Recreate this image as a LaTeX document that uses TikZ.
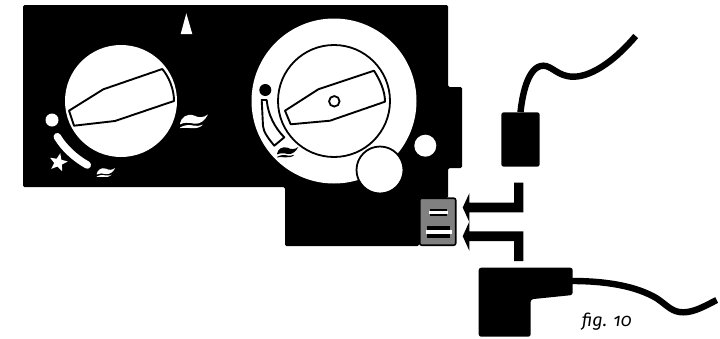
\documentclass[tikz,border=0pt]{standalone}
\usepackage{fontspec}
\setmainfont[Numbers=OldStyle]{Fira Sans}
\usetikzlibrary{shapes.geometric}
\tikzset{
  disc/.style={circle,fill=white,inner sep=0pt,minimum size=#1},
  ringed/.style={circle,draw=black,line width=1.8pt,inner sep=0pt,minimum size=#1},
  pointer/.style={fill=white,draw=black,line width=1.9pt,line join=round},
  cable/.style={draw=black,line width=6.4pt,line cap=butt},
  plugbody/.style={fill=black,rounded corners=2.5pt},
  bar/.style={fill=#1,draw=none},
}
\newcommand{\wave}[4]{%
 \begin{scope}[shift={(#1,#2)},scale=#3]
  \fill[#4] (0,9) .. controls (1,3) and (7,-1.5) .. (14,1) .. controls (19,3.5) and (23,3.5) .. (28,0) .. controls (25,6) and (20,10) .. (14,9.2) .. controls (9,7.8) and (4,7.8) .. (0,9.8) -- cycle;
  \fill[#4] (0,13) .. controls (5,10) and (10,10.2) .. (14,11.2) .. controls (17,11.8) and (20,11.2) .. (23,10.2) .. controls (20,13.5) and (15,14) .. (11,13.6) .. controls (7,13.2) and (3,13.2) .. (0,13.6) -- cycle;
 \end{scope}}
\begin{document}
\begin{tikzpicture}[x=1pt,y=-1pt]
\useasboundingbox (0,0) rectangle (720,338);
% housing
\fill[rounded corners=1.5pt] (23,5) -- (448,5) -- (448,87) -- (462,87) -- (462,168) -- (448,168) -- (448,198) -- (419,198) -- (419,246) -- (285,246) -- (285,187) -- (23,187) -- cycle;
\fill[white] (186.3,13.3) -- (180.7,34) -- (192.3,34) -- cycle;
% left knob
\node[disc=112pt] (knobL) at (121,101) {};
\draw[pointer] (69,110.7) -- (103.3,89.3) -- (162.3,69) .. controls (169,77) and (174,89) .. (174,101) -- (115,121) -- (74,125.7) -- cycle;
\node[disc=13pt] (dotL) at (52,120) {};
\draw[white,line width=7.5pt,line cap=round] (57.3,136.7) .. controls (64,148) and (75,158) .. (87.3,165);
\node[star,star points=5,star point ratio=2.3,fill=white,inner sep=0pt,minimum size=19pt,rotate=-12] (starL) at (58.3,162.5) {};
\wave{96.7}{168}{0.66}{white}
\wave{180}{114.5}{1}{white}
% right knob
\node[disc=165pt] (knobR) at (334,101) {};
\node[ringed=112pt] (ringR) at (334,101) {};
\draw[pointer] (285,110.7) -- (318.3,89.3) -- (374,70.7) .. controls (380,80) and (385,91) .. (385,101.7) -- (330,120.7) -- (290.7,124.3) -- cycle;
\node[ringed=10.5pt,fill=white] (hubR) at (334.3,101.3) {};
\node[circle,fill=black,inner sep=0pt,minimum size=12pt] (dotR) at (265.3,90) {};
\draw[pointer] (261.7,100) -- (266.7,100) .. controls (268,115) and (275,128) .. (284.3,137.3) -- (274.3,145.7) .. controls (268,138) and (263.5,132) .. (263,126) -- cycle;
\wave{277}{147}{0.76}{black}
\node[ringed=47pt,fill=white] (bigR) at (380,170) {};
\node[disc=22pt] (smallR) at (425.3,145.7) {};
% socket
\node[draw=black,line width=1.6pt,fill=black!50,rounded corners=2pt,minimum width=36pt,minimum height=47pt,inner sep=0pt] (socket) at (437.7,221.7) {};
\fill[bar=black] (430.3,209.3) rectangle (446.7,216);
\fill[bar=white] (429.3,211) rectangle (447.7,214);
\fill[bar=black] (426.7,226) rectangle (450,238);
\fill[bar=white] (425.7,230) rectangle (452.3,234);
% arrows
\fill (462.7,207.5) -- (469.3,193.3) -- (469.3,202.5) -- (514,202.5) -- (514,182.7) -- (523.3,182.7) -- (523.3,212.3) -- (469.3,212.3) -- (469.3,222) -- cycle;
\fill (462.7,236.2) -- (469.3,221.7) -- (469.3,231.3) -- (523.3,231.3) -- (523.3,261) -- (514,261) -- (514,241) -- (469.3,241) -- (469.3,250.7) -- cycle;
% upper plug
\node[fill=black,rounded corners=2.5pt,minimum width=38.4pt,minimum height=54.4pt,inner sep=0pt] (plugT) at (520.5,139.5) {};
\coordinate (endT) at (635.7,36);
\draw[cable] (plugT.north) .. controls (522,98) and (527,66) .. (543.3,65.7) .. controls (552,65.7) and (558,76.7) .. (573.3,76.7) .. controls (594,76.7) and (618,57) .. (endT);
% lower plug
\path[plugbody] (478.7,267.7) -- (572.7,267.7) -- (572.7,295) -- (530.7,299.3) -- (530.7,336.7) -- (478.7,336.7) -- cycle;
\coordinate (startB) at (572,281);
\coordinate (endB) at (716.7,300);
\draw[cable] (startB) .. controls (606,281) and (636,286) .. (656.7,298.3) .. controls (668,306) and (672,312.3) .. (683.3,312.3) .. controls (694,312.3) and (705,306) .. (endB);
\node[font=\itshape\fontsize{18}{20}\selectfont,anchor=base west,inner sep=0pt] (figlabel) at (581.7,326.5) {fig. 10};
\end{tikzpicture}
\end{document}
